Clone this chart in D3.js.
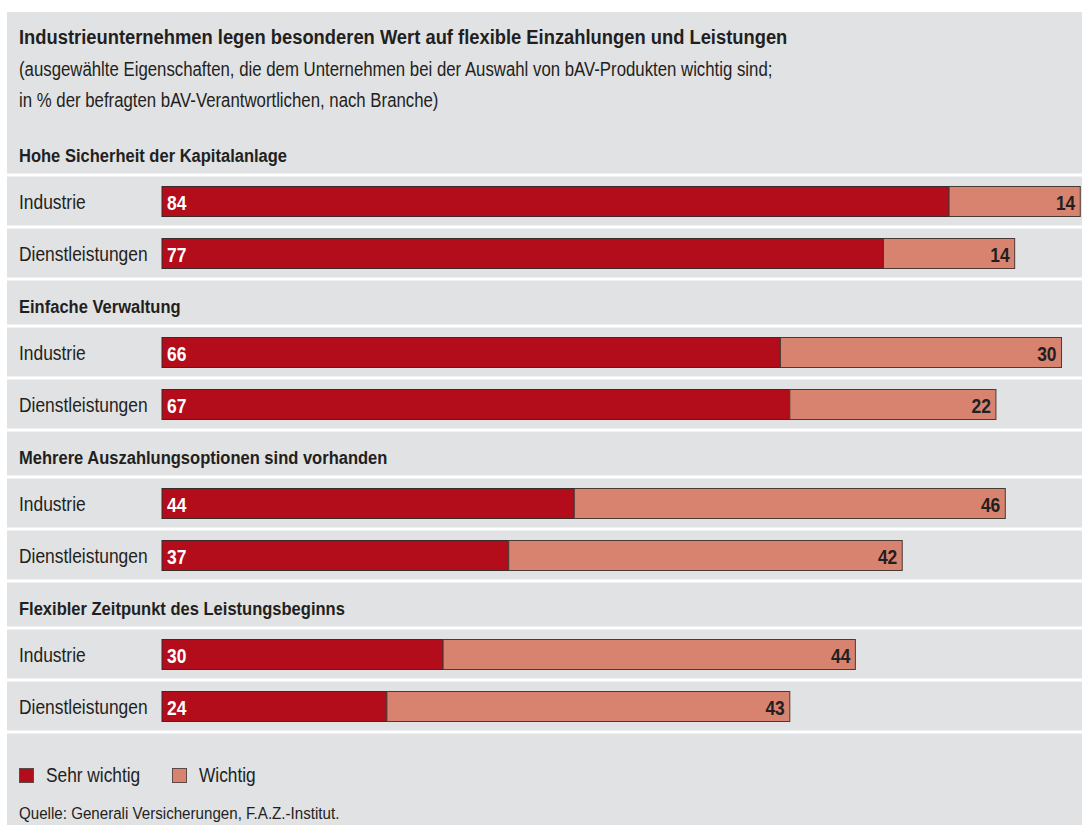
<!DOCTYPE html>
<html>
<head>
<meta charset="utf-8">
<script src="https://cdn.jsdelivr.net/npm/d3@7"></script>
<style>
  html, body { margin: 0; padding: 0; background: #ffffff; }
  svg { display: block; }
  text { font-family: "Liberation Sans", Arial, sans-serif; fill: #231f20; }
</style>
</head>
<body>
<svg id="chart" width="1082" height="825"></svg>
<script>
// Survey results: share of respondents (in %) by industry
const criteria = [
  "Hohe Sicherheit der Kapitalanlage",
  "Einfache Verwaltung",
  "Mehrere Auszahlungsoptionen sind vorhanden",
  "Flexibler Zeitpunkt des Leistungsbeginns"
];
const sectors = ["Industrie", "Dienstleistungen"];
const sehrWichtig = [[84, 77], [66, 67], [44, 37], [30, 24]];
const wichtig = [[14, 14], [30, 22], [46, 42], [44, 43]];
const seriesNames = ["Sehr wichtig", "Wichtig"];
const seriesColors = ["#b30d1c", "#d8836f"];

const title = "Industrieunternehmen legen besonderen Wert auf flexible Einzahlungen und Leistungen";
const subtitle = [
  "(ausgewählte Eigenschaften, die dem Unternehmen bei der Auswahl von bAV-Produkten wichtig sind;",
  "in % der befragten bAV-Verantwortlichen, nach Branche)"
];
const source = "Quelle: Generali Versicherungen, F.A.Z.-Institut.";

const svg = d3.select("#chart");
const W = 1082, H = 825;
const panelX = 7, panelY = 12;
const squeeze = 0.87; // narrow the sans face to a condensed look

// place a horizontally condensed text at (x, y)
function label(x, y, str, size, weight, anchor, color) {
  const t = svg.append("text")
    .attr("transform", `translate(${x},${y}) scale(${squeeze},1)`)
    .attr("font-size", size)
    .attr("font-weight", weight || "normal")
    .attr("text-anchor", anchor || "start")
    .text(str);
  if (color) t.style("fill", color);
  return t;
}

// grey panel
svg.append("rect").attr("x", panelX).attr("y", panelY)
  .attr("width", W - panelX).attr("height", H - panelY).attr("fill", "#e1e2e4");

// title block
label(19, 44, title, 21.1, "bold");
subtitle.forEach((s, i) => label(19, 76 + i * 31, s, 19.3));

// layout of the groups
const groupTop = 128, headerH = 47, rowH = 52, groupH = headerH + 2 * rowH;
const barH = 30;
const x = d3.scaleLinear().domain([0, 100]).range([162, 162 + 937]);

const sep = (y) => svg.append("rect").attr("x", panelX).attr("y", y - 1.5)
  .attr("width", W - panelX).attr("height", 3).attr("fill", "#ffffff");

criteria.forEach((c, gi) => {
  const gy = groupTop + gi * groupH;
  label(19, gy + 34, c, 19, "bold");
  sep(gy + headerH);

  sectors.forEach((s, si) => {
    const ry = gy + headerH + si * rowH;
    const cy = ry + rowH / 2 + 0.5;
    const v1 = sehrWichtig[gi][si], v2 = wichtig[gi][si];
    label(19, cy + 7.5, s, 20);

    svg.append("rect")
      .attr("x", x(0)).attr("y", cy - barH / 2)
      .attr("width", x(v1) - x(0)).attr("height", barH)
      .attr("fill", seriesColors[0]).attr("stroke", "#3a2a2a").attr("stroke-width", 1);
    svg.append("rect")
      .attr("x", x(v1)).attr("y", cy - barH / 2)
      .attr("width", x(v1 + v2) - x(v1)).attr("height", barH)
      .attr("fill", seriesColors[1]).attr("stroke", "#4a3a36").attr("stroke-width", 1);

    label(x(0) + 5, cy + 8, v1, 20, "bold", "start", "#ffffff");
    label(x(v1 + v2) - 5, cy + 8, v2, 20, "bold", "end");

    sep(ry + rowH);
  });
});

// legend
const legendX = [19, 172];
seriesNames.forEach((n, i) => {
  svg.append("rect").attr("x", legendX[i] + 0.5).attr("y", 768.5)
    .attr("width", 14).attr("height", 14)
    .attr("fill", seriesColors[i]).attr("stroke", "#5a4a48").attr("stroke-width", 1);
  label(legendX[i] + 27, 782, n, 19.9);
});

label(19, 819, source, 17.4);
</script>
</body>
</html>
